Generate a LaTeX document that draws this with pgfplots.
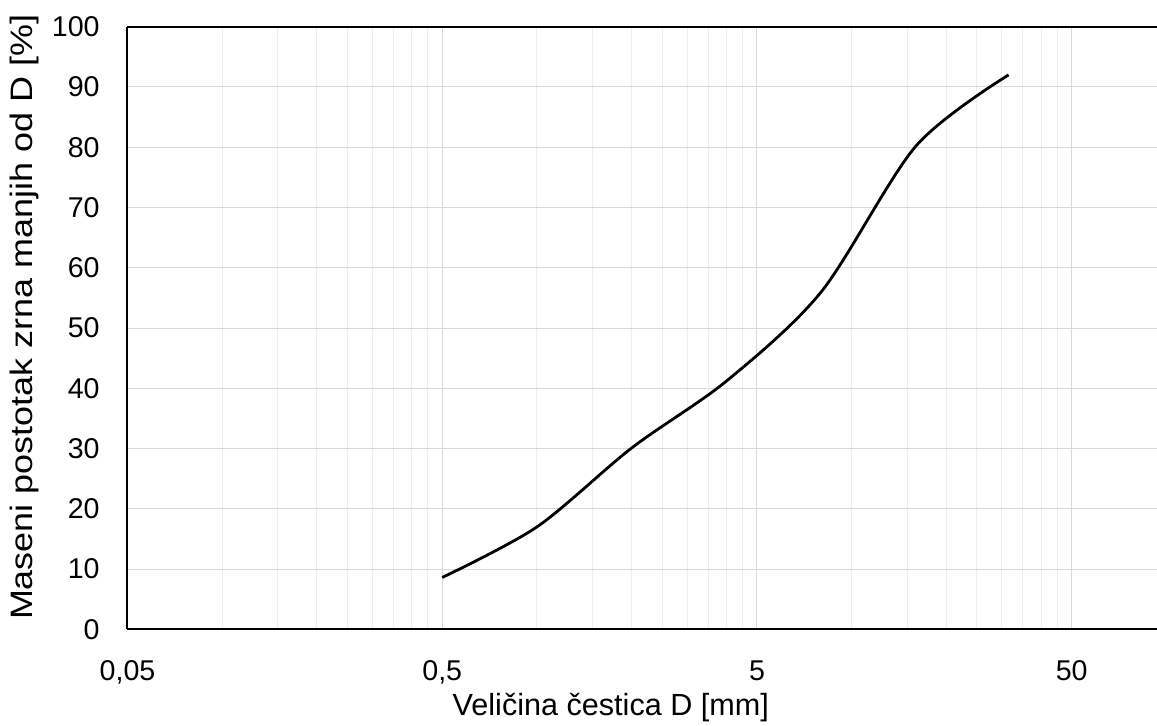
\documentclass[border=0pt]{standalone}
\usepackage{pgfplots}
\pgfplotsset{compat=1.18}
\usepackage{fontspec}
\setmainfont{Liberation Sans}
\newfontfamily\ylabfont[FakeStretch=1.16]{Liberation Sans}
\definecolor{gridmaj}{HTML}{D9D9D9}
\definecolor{gridmin}{HTML}{EEEEEE}
\begin{document}
\begin{tikzpicture}
\begin{axis}[
  scale only axis, width=514.75pt, height=301.3pt,
  xmode=log, log basis x=10,
  xmin=0.05, xmax=93.3, ymin=0, ymax=100,
  axis x line*=box, axis y line*=left,
  axis line style={black, line width=1pt},
  xtick={0.05,0.5,5,50}, xticklabels={{0,05},{0,5},5,50},
  minor xtick={0.1,0.15,0.2,0.25,0.3,0.35,0.4,0.45,1,1.5,2,2.5,3,3.5,4,4.5,10,15,20,25,30,35,40,45},
  ytick={0,10,...,100},
  major tick length=0pt, minor tick length=0pt,
  xmajorgrids, xminorgrids, ymajorgrids,
  major grid style={gridmaj, line width=0.5pt},
  minor grid style={gridmin, line width=0.5pt},
  /pgf/number format/assume math mode=true,
  yticklabel style={font=\fontsize{14.3}{16}\selectfont, anchor=east, inner sep=0pt, xshift=-13.75pt},
  xticklabel style={font=\fontsize{14.3}{16}\selectfont, anchor=north, inner sep=0pt, yshift=-15.35pt},
  xlabel={Veličina čestica D [mm]},
  ylabel={Maseni postotak zrna manjih od D [\%]},
  every axis x label/.style={at={(rel axis cs:0.4695,-0.14222)}, anchor=base, font=\fontsize{15.3}{18}\selectfont},
  every axis y label/.style={at={(rel axis cs:-0.0918,0.518)}, anchor=base, rotate=90, font=\ylabfont\fontsize{15.5}{18}\selectfont},
]
\addplot[black, line width=1.4pt, smooth] coordinates {
  (0.5,8.6) (1,17.0) (2,30.1) (4,41.2) (8,56.0) (16,80.2) (31.5,92.0)
};
\end{axis}
\pgfresetboundingbox
\useasboundingbox (-63.75pt,-47.85pt) rectangle (514.75pt,314.65pt);
\end{tikzpicture}
\end{document}
